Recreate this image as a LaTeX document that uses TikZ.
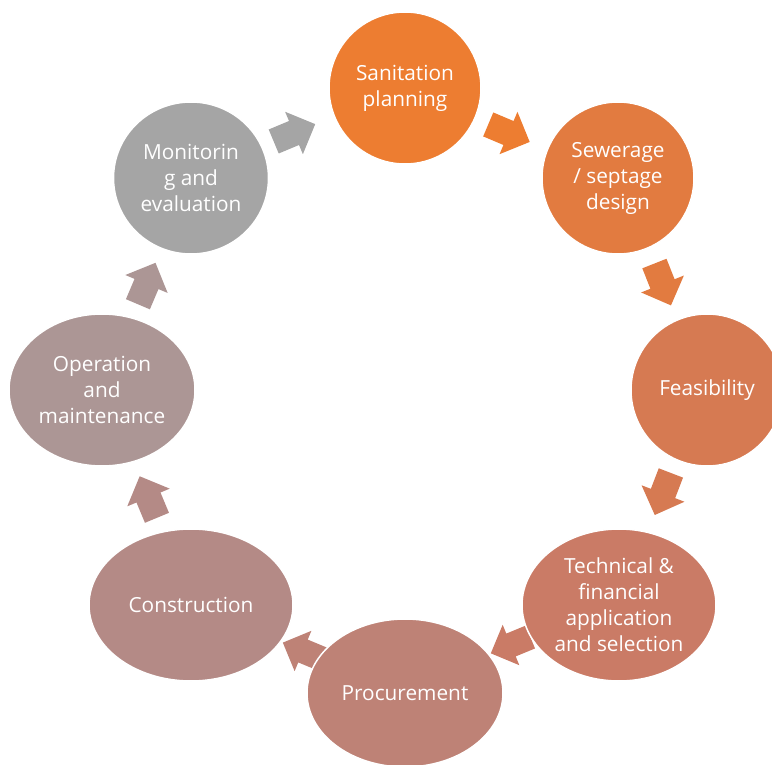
\documentclass[tikz,border=0pt]{standalone}
\usepackage{fontspec}
\setmainfont{Open Sans}
\usetikzlibrary{shapes.geometric,calc}
\definecolor{c0}{HTML}{ED7D31}
\definecolor{c1}{HTML}{E27B40}
\definecolor{c2}{HTML}{D67A52}
\definecolor{c3}{HTML}{CA7B66}
\definecolor{c4}{HTML}{BE8276}
\definecolor{c5}{HTML}{B48A86}
\definecolor{c6}{HTML}{AC9695}
\definecolor{c7}{HTML}{A5A5A5}
\tikzset{
  stage/.style={ellipse, fill=#1, draw=white, line width=1.5pt, inner sep=0pt, text=white, align=center,
    font=\fontsize{20.8}{26}\selectfont},
}
\newcommand{\blockarrow}[4]{%
  \fill[#3, shift={(#1)}, rotate=#2, scale=#4]
    (-22,-13) -- (0,-13) -- (0,-23) -- (23,0) -- (0,23) -- (0,13) -- (-22,13) -- cycle;}
\begin{document}
\begin{tikzpicture}[x=1pt,y=-1pt]
\useasboundingbox (0,0) rectangle (772,765);
\coordinate (p0) at (405,88);
\coordinate (p1) at (618,178);
\coordinate (p2) at (707,390);
\coordinate (p3) at (619,605);
\coordinate (p4) at (405,693);
\coordinate (p5) at (191,605);
\coordinate (p6) at (102,390);
\coordinate (p7) at (191,178);
\coordinate (m1) at ($(p7)!0.5!(p0)+(-4,0)$);
\coordinate (m2) at ($(p0)!0.5!(p1)+(-3,0)$);
\coordinate (m3) at ($(p1)!0.5!(p2)$);
\coordinate (m4) at ($(p2)!0.5!(p3)+(0,-4)$);
\coordinate (m5) at ($(p3)!0.5!(p4)+(-1,-4)$);
\coordinate (m6) at ($(p4)!0.5!(p5)+(5,2)$);
\coordinate (m7) at ($(p5)!0.5!(p6)+(2,0)$);
\coordinate (m8) at ($(p6)!0.5!(p7)$);
\blockarrow{m1}{22.7}{c7}{1}
\blockarrow{m2}{-22.9}{c0}{1}
\blockarrow{m3}{-68.4}{c1}{1}
\blockarrow{m4}{-111}{c2}{1}
\blockarrow{m5}{-157.6}{c3}{0.95}
\blockarrow{m6}{157.4}{c4}{0.95}
\blockarrow{m7}{112.6}{c5}{1}
\blockarrow{m8}{67}{c6}{1}
\begin{scope}
\clip (0,0) rectangle (772,765);
\node[stage=c0, minimum width=152, minimum height=152] (n0) at (p0) {Sanitation\\planning};
\node[stage=c1, minimum width=152, minimum height=152] (n1) at (p1) {Sewerage\\/ septage\\design};
\node[stage=c2, minimum width=152, minimum height=152] (n2) at (p2) {Feasibility};
\node[stage=c3, minimum width=194, minimum height=152] (n3) at (p3) {Technical \&\\financial\\application\\and selection};
\node[stage=c4, minimum width=196, minimum height=148] (n4) at (p4) {Procurement};
\node[stage=c5, minimum width=204, minimum height=152] (n5) at (p5) {Construction};
\node[stage=c6, minimum width=186, minimum height=152] (n6) at (p6) {Operation\\and\\maintenance};
\node[stage=c7, minimum width=155, minimum height=152] (n7) at (p7) {Monitorin\\g and\\evaluation};
\end{scope}
\end{tikzpicture}
\end{document}
